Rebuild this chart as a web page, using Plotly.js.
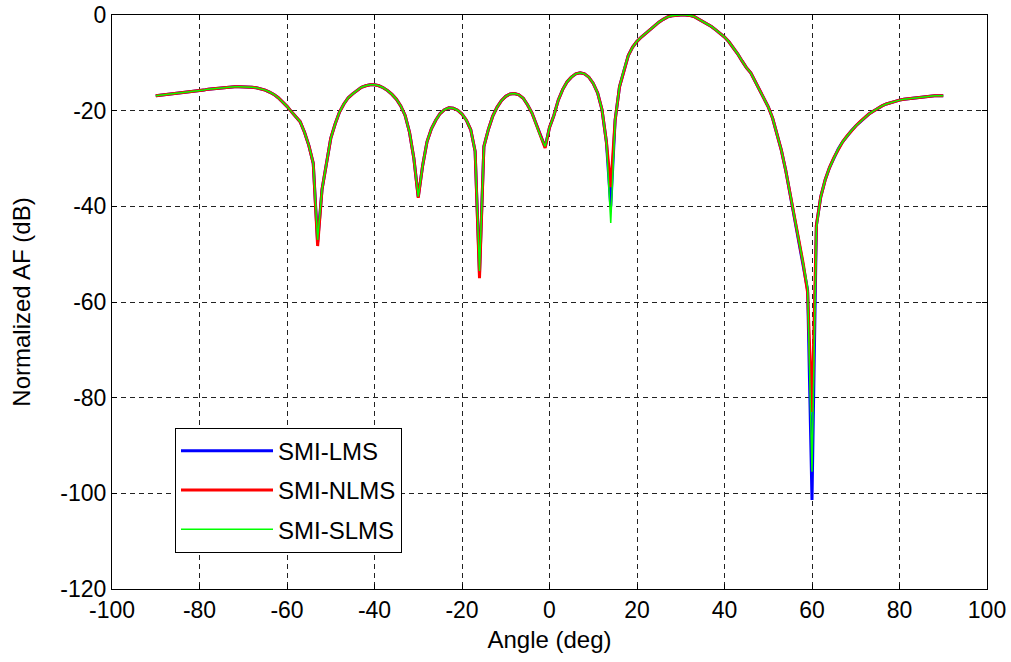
<!DOCTYPE html>
<html>
<head>
<meta charset="utf-8">
<script src="https://cdn.plot.ly/plotly-3.0.1.min.js"></script>
<style>html,body{margin:0;padding:0;background:#fff;}#chart{width:1011px;height:662px;}</style>
</head>
<body>
<div id="chart"></div>
<script>
// Angle grid (deg)
const angles = [
-90,-89,-88,-87,-86,-85,-84,-83,-82,-81,-80,-79,-78,-77,-76,-75,-74,-73,-72,-71,
-70,-69,-68,-67,-66,-65,-64,-63,-62,-61,-60,-59,-58,-57,-56,-55,-54,-53,-52,-51,
-50,-49,-48,-47,-46,-45,-44,-43,-42,-41,-40,-39,-38,-37,-36,-35,-34,-33,-32,-31,
-30,-29,-28,-27,-26,-25,-24,-23,-22,-21,-20,-19,-18,-17,-16,-15,-14,-13,-12,-11,
-10,-9,-8,-7,-6,-5,-4,-3,-2,-1,0,1,2,3,4,5,6,7,8,9,
10,11,12,13,14,15,16,17,18,19,20,21,22,23,24,25,26,27,28,29,
30,31,32,33,34,35,36,37,38,39,40,41,42,43,44,45,46,47,48,49,
50,51,52,53,54,55,56,57,58,59,60,61,62,63,64,65,66,67,68,69,
70,71,72,73,74,75,76,77,78,79,80,81,82,83,84,85,86,87,88,89,90];

// SMI-NLMS (red)
const nlms = [
-16.9,-16.8,-16.7,-16.6,-16.5,-16.4,-16.3,-16.2,-16.1,-16.0,-15.8,-15.7,-15.5,-15.4,-15.3,-15.2,-15.1,-15.0,-15.0,-15.0,
-15.0,-15.0,-15.1,-15.2,-15.4,-15.7,-16.1,-16.6,-17.3,-18.1,-19.1,-20.2,-21.3,-22.3,-24.5,-27.3,-31.0,-48.3,-36.5,-31.0,
-25.8,-22.8,-20.3,-18.6,-17.3,-16.5,-15.7,-15.1,-14.8,-14.6,-14.6,-14.8,-15.2,-15.8,-16.6,-17.6,-19.0,-21.0,-24.5,-30.0,
-38.2,-31.5,-26.5,-23.8,-22.0,-20.6,-19.8,-19.4,-19.5,-19.9,-20.7,-22.0,-24.0,-28.5,-55.0,-27.5,-24.0,-21.2,-19.3,-17.9,
-17.0,-16.5,-16.4,-16.7,-17.4,-18.8,-20.5,-23.0,-25.5,-27.8,-23.5,-21.0,-17.8,-15.6,-14.0,-13.0,-12.3,-12.1,-12.3,-13.0,
-14.3,-16.3,-19.8,-26.5,-36.0,-22.0,-15.0,-11.5,-8.5,-6.7,-5.5,-4.6,-3.8,-3.0,-2.2,-1.5,-0.9,-0.4,-0.15,-0.03,
0.0,-0.02,-0.08,-0.3,-0.8,-1.3,-1.8,-2.4,-3.1,-3.8,-4.6,-5.6,-6.8,-8.1,-9.6,-11.0,-12.1,-13.8,-15.5,-17.3,
-19.2,-21.6,-24.8,-28.3,-32.5,-37.5,-42.0,-47.0,-52.0,-58.0,-83.0,-44.0,-38.0,-34.5,-31.9,-29.8,-28.0,-26.5,-25.3,-24.2,
-23.2,-22.3,-21.4,-20.7,-20.1,-19.5,-19.0,-18.6,-18.3,-18.0,-17.8,-17.6,-17.5,-17.3,-17.2,-17.1,-17.0,-17.0,-16.9,-16.9,-16.9];

// SMI-SLMS (green)
const slms = [
-16.9,-16.8,-16.7,-16.6,-16.5,-16.4,-16.3,-16.2,-16.1,-16.0,-15.8,-15.7,-15.5,-15.4,-15.3,-15.2,-15.1,-15.0,-15.0,-15.0,
-15.0,-15.0,-15.1,-15.2,-15.4,-15.7,-16.1,-16.6,-17.3,-18.1,-19.1,-20.2,-21.3,-22.3,-24.5,-27.3,-31.0,-47.0,-36.5,-31.0,
-25.8,-22.8,-20.3,-18.6,-17.3,-16.5,-15.7,-15.1,-14.8,-14.6,-14.6,-14.8,-15.2,-15.8,-16.6,-17.6,-19.0,-21.0,-24.5,-30.0,
-38.0,-31.5,-26.5,-23.8,-22.0,-20.6,-19.8,-19.4,-19.5,-19.9,-20.7,-22.0,-24.0,-28.5,-53.5,-27.5,-24.0,-21.2,-19.3,-17.9,
-17.0,-16.5,-16.4,-16.7,-17.4,-18.8,-20.5,-23.0,-25.5,-27.5,-23.5,-21.0,-17.8,-15.6,-14.0,-13.0,-12.3,-12.1,-12.3,-13.0,
-14.3,-16.3,-19.8,-26.5,-43.5,-22.0,-15.0,-11.5,-8.5,-6.7,-5.5,-4.6,-3.8,-3.0,-2.2,-1.5,-0.9,-0.4,-0.15,-0.03,
0.0,-0.02,-0.08,-0.3,-0.8,-1.3,-1.8,-2.4,-3.1,-3.8,-4.6,-5.6,-6.8,-8.1,-9.6,-11.0,-12.1,-13.8,-15.5,-17.3,
-19.2,-21.6,-24.8,-28.3,-32.5,-37.5,-42.0,-47.0,-52.0,-57.0,-95.5,-44.5,-38.0,-34.5,-31.9,-29.8,-28.0,-26.5,-25.3,-24.2,
-23.2,-22.3,-21.4,-20.7,-20.1,-19.5,-19.0,-18.6,-18.3,-18.0,-17.8,-17.6,-17.5,-17.3,-17.2,-17.1,-17.0,-17.0,-16.9,-16.9,-16.9];

// SMI-LMS (blue)
const lms = [
-16.9,-16.8,-16.7,-16.6,-16.5,-16.4,-16.3,-16.2,-16.1,-16.0,-15.8,-15.7,-15.5,-15.4,-15.3,-15.2,-15.1,-15.0,-15.0,-15.0,
-15.0,-15.0,-15.1,-15.2,-15.4,-15.7,-16.1,-16.6,-17.3,-18.1,-19.1,-20.2,-21.3,-22.3,-24.5,-27.3,-31.0,-47.5,-36.5,-31.0,
-25.8,-22.8,-20.3,-18.6,-17.3,-16.5,-15.7,-15.1,-14.8,-14.6,-14.6,-14.8,-15.2,-15.8,-16.6,-17.6,-19.0,-21.0,-24.5,-30.0,
-38.0,-31.5,-26.5,-23.8,-22.0,-20.6,-19.8,-19.4,-19.5,-19.9,-20.7,-22.0,-24.0,-28.5,-54.0,-27.5,-24.0,-21.2,-19.3,-17.9,
-17.0,-16.5,-16.4,-16.7,-17.4,-18.8,-20.5,-23.0,-25.5,-27.6,-23.5,-21.0,-17.8,-15.6,-14.0,-13.0,-12.3,-12.1,-12.3,-13.0,
-14.3,-16.3,-19.8,-26.5,-40.0,-22.0,-15.0,-11.5,-8.5,-6.7,-5.5,-4.6,-3.8,-3.0,-2.2,-1.5,-0.9,-0.4,-0.15,-0.03,
0.0,-0.02,-0.08,-0.3,-0.8,-1.3,-1.8,-2.4,-3.1,-3.8,-4.6,-5.6,-6.8,-8.1,-9.6,-11.0,-12.1,-13.8,-15.5,-17.3,
-19.2,-21.6,-24.8,-28.3,-32.5,-37.5,-42.0,-47.0,-52.0,-57.5,-101.4,-44.0,-38.0,-34.5,-31.9,-29.8,-28.0,-26.5,-25.3,-24.2,
-23.2,-22.3,-21.4,-20.7,-20.1,-19.5,-19.0,-18.6,-18.3,-18.0,-17.8,-17.6,-17.5,-17.3,-17.2,-17.1,-17.0,-17.0,-16.9,-16.9,-16.9];

const seriesNames = ['SMI-LMS', 'SMI-NLMS', 'SMI-SLMS'];
const xTicks = [-100,-80,-60,-40,-20,0,20,40,60,80,100];
const yTicks = [-120,-100,-80,-60,-40,-20,0];

const traces = [
  {x: angles, y: lms, name: seriesNames[0], mode: 'lines', legendgroup: 'a',
   line: {color: '#0000ff', width: 3}},
  {x: angles, y: nlms, name: seriesNames[1], mode: 'lines', legendgroup: 'b',
   line: {color: '#ff0000', width: 3}},
  {x: angles, y: slms, name: seriesNames[2], mode: 'lines', legendgroup: 'c',
   line: {color: '#00ff00', width: 1.5}}
];

const font = {family: 'Arial, "Liberation Sans", sans-serif', color: '#000'};

const layout = {
  width: 1011, height: 662,
  margin: {l: 112, r: 24, t: 15, b: 73},
  paper_bgcolor: '#fff', plot_bgcolor: '#fff',
  font: Object.assign({size: 23}, font),
  showlegend: true,
  legend: {
    x: 0.072, y: 0.281, xanchor: 'left', yanchor: 'top',
    bgcolor: '#fff', bordercolor: '#000', borderwidth: 1,
    font: Object.assign({size: 24}, font),
    itemwidth: 92, tracegroupgap: 5, traceorder: 'grouped'
  },
  xaxis: {
    range: [-100, 100], tickvals: xTicks, ticktext: xTicks.map(String),
    showgrid: true, gridcolor: '#222', griddash: '5px,4px', gridwidth: 1,
    zeroline: false, showline: true, linecolor: '#000', linewidth: 1, mirror: 'ticks',
    ticks: 'inside', ticklen: 5, tickcolor: '#000',
    tickfont: Object.assign({size: 23}, font),
    title: {text: 'Angle (deg)', font: Object.assign({size: 24}, font), standoff: 9}
  },
  yaxis: {
    range: [-120, 0], tickvals: yTicks, ticktext: yTicks.map(String),
    showgrid: true, gridcolor: '#222', griddash: '5px,4px', gridwidth: 1,
    zeroline: false, showline: true, linecolor: '#000', linewidth: 1, mirror: 'ticks',
    ticks: 'inside', ticklen: 5, tickcolor: '#000',
    tickfont: Object.assign({size: 23}, font),
    title: {text: 'Normalized AF (dB)', font: Object.assign({size: 24}, font), standoff: 22}
  }
};

Plotly.newPlot('chart', traces, layout, {displayModeBar: false, staticPlot: true});
</script>
</body>
</html>
